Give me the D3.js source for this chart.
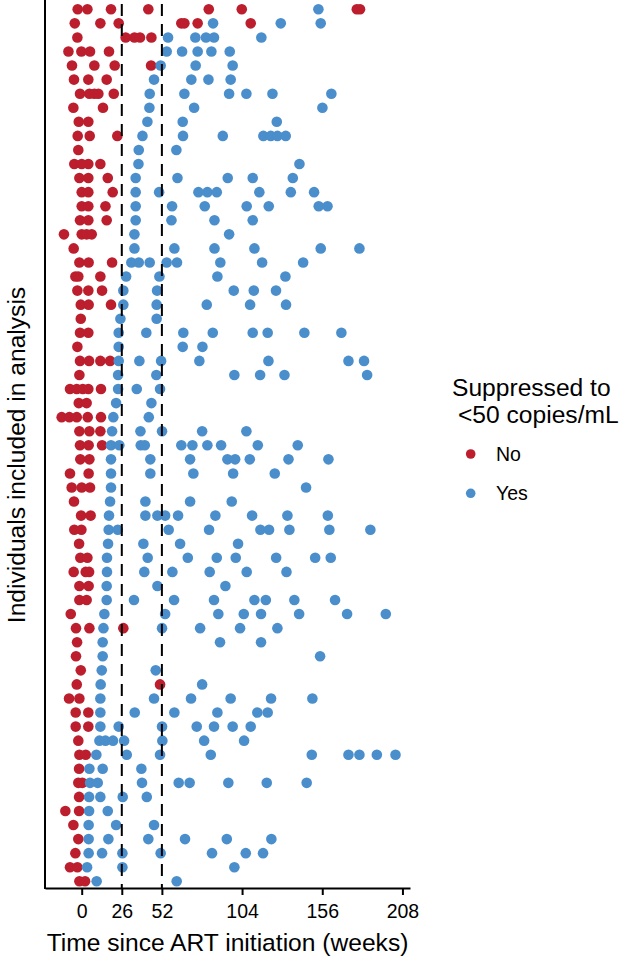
<!DOCTYPE html>
<html>
<head>
<meta charset="utf-8">
<script src="https://cdn.jsdelivr.net/npm/d3@7"></script>
<style>
  html, body { margin: 0; padding: 0; background: #ffffff; }
  svg { display: block; font-family: "Liberation Sans", Arial, Helvetica, sans-serif; }
</style>
</head>
<body>
<svg id="chart" width="621" height="961"></svg>
<script>
// Viral load visits per individual (weeks since ART initiation), one array per row, top row first.
// Visits where the individual was not yet suppressed to <50 copies/mL
const notSuppressed = [
  [-2.6, 3.7, 19, 43.2, 82.4, 103.8, 178.4, 180.5],
  [-4.5, 12.1, 24, 64.6, 66.6, 75.2, 109.6],
  [-2.8, 28.5, 34.2, 37.8, 45.2],
  [-8.6, -0.2, 5.4, 17.7],
  [-6.3, 8.2, 21.4, 45],
  [-5, 4.3, 16.2],
  [-1.1, 5, 8.2, 10.8, 20.8],
  [-5.4, 13.8],
  [-1.9, 4.3],
  [-2.6, 5.2, 23.1],
  [-2.2],
  [-4.8, 0, 4.3, 12.1],
  [-1.5, 4.3, 16.9],
  [0, 4.3, 20.1],
  [0, 4.3, 15.4],
  [-1.1, 4.3, 16.2],
  [-11.5, 0, 3.2, 6.5],
  [-5.2],
  [-1.5, 4.5, 19.7],
  [-4.1, -2.2, 12.1],
  [-2.8, 4.3, 13.2],
  [-0.6, 4.5, 19],
  [-0.6],
  [-1.1, 4.3],
  [-2.8],
  [-1.1, 4.8, 12.1, 18.4],
  [-1.5],
  [-7.6, -3.2, 0.7, 4.3, 12.5],
  [-1.9, 3.2],
  [-13, -8, -3.2, 3.9, 12.5],
  [-1.5, 5, 12.1],
  [-1.1, 4.5, 13.2],
  [-0.9, 5],
  [-7.6, 4.5],
  [-6.5, 0, 5.4],
  [-5],
  [-0.4, 5.8],
  [-4.8, -0.2],
  [-1.7],
  [-0.9, 3.7],
  [-5.2, 2.6, 4.8],
  [-1.5, 4.5],
  [-1.5, 3.2],
  [-7.1],
  [-3.7, 5, 27],
  [-3],
  [-3.7],
  [-0.6],
  [-3.2, 50.8],
  [-8.2, -1.5],
  [-3.9, 4.3],
  [-3.9, 4.3],
  [-2.2],
  [-1.5, 2.6],
  [-1.7],
  [-2.2, 0.4],
  [-1.7],
  [-10.6, -1.7],
  [-5.4],
  [-2.2],
  [-4.1],
  [-7.6, -2.8],
  [-1.5, 2.2]
];

// Visits where the individual was suppressed to <50 copies/mL
const suppressed = [
  [153.5],
  [85.2, 129.1, 155],
  [56, 73.7, 80.6, 85.8, 116.5],
  [55.1, 65.1, 75.2, 84.1, 96],
  [51.2, 73.9, 97.9],
  [46.9, 71.1, 82.2, 96.6],
  [44.1, 66.6, 95.6, 106.8, 123.7, 161.9],
  [43.9, 72.9, 156.1],
  [42.6, 65.5, 126.5],
  [39.4, 65.7, 91.5, 117.8, 122.6, 126.9, 132.3],
  [37, 61.4],
  [36.8, 141.2],
  [35, 62.1, 94.7, 110.9, 136.9],
  [35, 50.2, 75.7, 81.5, 87.6, 115.2, 135.6, 150.7],
  [35, 58.6, 79.8, 107, 121.3, 153.7, 159.4],
  [35, 58.2, 86.1, 110.9],
  [34.2, 95.6],
  [34.2, 60.1, 86.1, 112, 155, 180.1],
  [32.2, 37, 44.1, 55.1, 61.8, 89.9, 117, 143.6],
  [28.8, 50.4, 88, 132.1],
  [27, 48.9, 98.6, 111.6, 126],
  [27, 48.6, 81.1, 109.2, 132.5],
  [25.1, 48.6],
  [24, 41.9, 65.9, 85, 110.9, 120.6, 144.4, 168.4],
  [24, 65.5, 78.3],
  [24, 37.4, 51.5, 76.3, 121.1, 173, 183.1],
  [23.6, 48.4, 99, 115.7, 131.5, 185.1],
  [23.6, 35.7, 50.8],
  [22.3, 45.2],
  [20.5, 43.5],
  [19.7, 38.1, 52.1, 78.1, 106.8],
  [19, 24.4, 38.3, 40.9, 64.6, 71.8, 81.5, 90.4, 114.2, 140.1],
  [19, 44.5, 70.3, 94.5, 99.5, 109, 134.1, 160],
  [19, 44.5, 72.4, 98.2, 125.2],
  [19, 145.5],
  [18.4, 41.3, 70.3, 97.3],
  [17.7, 41.3, 49.1, 54.1, 62.5, 86.7, 110.5, 133.4, 159.6],
  [17.5, 23.4, 56.4, 82.6, 115.9, 121.5, 134.7, 160.6, 187.2],
  [17.1, 40, 63.8, 101.4],
  [16.4, 42.8, 68.8, 87.6, 99.9, 126.1, 151.4, 161.5],
  [16.4, 40.6, 58.8, 83, 107, 132.8],
  [16.2, 49.1, 93.2],
  [16.2, 33.9, 59.9, 85.8, 112, 119.4, 137.9, 164.3],
  [14.7, 54.1, 88.6, 105.1, 116.3, 141, 172.1, 197.2],
  [14.1, 52.1, 76.8, 102.7, 126.9],
  [13.6, 89.7, 116.3],
  [13.6, 154.6],
  [13, 48],
  [12.3, 78.1],
  [12.1, 46.9, 70.9, 96.6, 122.8, 149.6],
  [12.1, 34.4, 60.1, 88, 113.9, 120.6],
  [12.1, 24, 52.1, 74.6, 85.8, 97.9, 109.6],
  [11.5, 15.4, 20.3, 27.5, 52.3, 79.4, 105.3],
  [9.5, 29.2, 50.8, 83.7, 149.2, 173, 180.1, 191.4, 203.5],
  [5, 13.6, 38.7],
  [5.4, 10.4, 39.1, 62.9, 70, 95.1, 120, 145.9],
  [4.8, 12.1, 26.6, 42.2],
  [4.8, 16.9],
  [4.5, 22.3, 46.9],
  [4.5, 17.3, 43.2, 67, 94.1, 123],
  [4.5, 13.2, 26.4, 51.2, 84.5, 106.4, 117.6],
  [3.5, 26.4, 99],
  [9.7, 61.6]
];

const weekTicks = [0, 26, 52, 104, 156, 208];
const referenceWeeks = [26, 52];
const statusLabels = ["No", "Yes"];
const statusColors = ["#BC1E2D", "#4A8ECC"];

const svg = d3.select("#chart");

const panel = { left: 45, right: 410, top: 0, bottom: 888 };

const x = d3.scaleLinear()
  .domain([-23.8, 212.9])
  .range([panel.left, panel.right]);

const rowIds = d3.range(notSuppressed.length);
const y = d3.scalePoint()
  .domain(rowIds)
  .range([9.3, 881.3]);

// Flatten visits into drawable points, in row order
const visits = [];
rowIds.forEach(i => {
  notSuppressed[i].forEach(w => visits.push({ row: i, week: w, status: 0 }));
  suppressed[i].forEach(w => visits.push({ row: i, week: w, status: 1 }));
});

const dotR = 5.3;

svg.append("g")
  .selectAll("circle")
  .data(visits)
  .join("circle")
  .attr("cx", d => x(d.week))
  .attr("cy", d => y(d.row))
  .attr("r", dotR)
  .attr("fill", d => statusColors[d.status]);

// Dashed reference lines at 26 and 52 weeks
svg.append("g")
  .selectAll("line")
  .data(referenceWeeks)
  .join("line")
  .attr("x1", d => x(d)).attr("x2", d => x(d))
  .attr("y1", panel.top + 4).attr("y2", panel.bottom)
  .attr("stroke", "#000")
  .attr("stroke-width", 2)
  .attr("stroke-dasharray", "12,8");

// X axis
const xAxis = svg.append("g")
  .attr("transform", `translate(0,${panel.bottom})`)
  .call(d3.axisBottom(x).tickValues(weekTicks).tickSize(7).tickPadding(9).tickSizeOuter(0));
xAxis.select(".domain").attr("stroke", "#000").attr("stroke-width", 2);
xAxis.selectAll(".tick line").attr("stroke", "#000").attr("stroke-width", 2);
xAxis.selectAll(".tick text")
  .attr("font-size", 19.5)
  .attr("fill", "#000")
  .attr("font-family", "Liberation Sans, Arial, sans-serif");

// Y axis line (no ticks)
svg.append("line")
  .attr("x1", panel.left).attr("x2", panel.left)
  .attr("y1", panel.top).attr("y2", panel.bottom + 1)
  .attr("stroke", "#000")
  .attr("stroke-width", 2);

// Axis titles
svg.append("text")
  .attr("x", (panel.left + panel.right) / 2)
  .attr("y", 951)
  .attr("text-anchor", "middle")
  .attr("font-size", 24.6)
  .attr("fill", "#000")
  .text("Time since ART initiation (weeks)");

svg.append("text")
  .attr("transform", `translate(25,455) rotate(-90)`)
  .attr("text-anchor", "middle")
  .attr("font-size", 24.6)
  .attr("fill", "#000")
  .text("Individuals included in analysis");

// Legend
const legend = svg.append("g");
legend.append("text")
  .attr("x", 452).attr("y", 396)
  .attr("font-size", 24.6)
  .attr("fill", "#000")
  .text("Suppressed to");
legend.append("text")
  .attr("x", 458).attr("y", 423)
  .attr("font-size", 24.6)
  .attr("fill", "#000")
  .text("<50 copies/mL");

const keyY = d3.scalePoint().domain(statusLabels).range([454, 493.3]);
const keys = legend.selectAll("g.key")
  .data(statusLabels)
  .join("g")
  .attr("class", "key")
  .attr("transform", d => `translate(0,${keyY(d)})`);
keys.append("circle")
  .attr("cx", 470.7).attr("cy", 0)
  .attr("r", 4.8)
  .attr("fill", (d, i) => statusColors[i]);
keys.append("text")
  .attr("x", 496).attr("y", 6.8)
  .attr("font-size", 19.5)
  .attr("fill", "#000")
  .text(d => d);
</script>
</body>
</html>
